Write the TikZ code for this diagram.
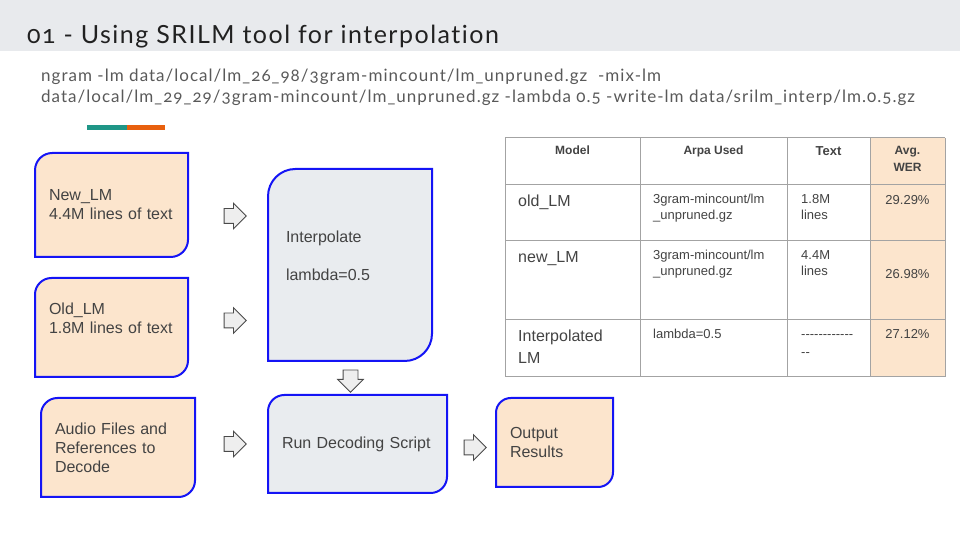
\documentclass[tikz,border=0pt]{standalone}
\usepackage{fontspec}
\setmainfont{Liberation Sans}
\newfontfamily\slidefont{Lato}[Numbers=OldStyle, Ligatures=NoCommon, LetterSpace=6]
\usetikzlibrary{shapes.arrows}
\usetikzlibrary{backgrounds}
\definecolor{peach}{HTML}{FCE5CD}
\definecolor{boxgray}{HTML}{E9ECEF}
\definecolor{bandgray}{HTML}{E8EAED}
\definecolor{boxblue}{HTML}{1414F5}
\definecolor{inktext}{HTML}{434343}
\definecolor{cmdtext}{HTML}{595959}
\definecolor{titletext}{HTML}{212121}
\definecolor{gridgray}{HTML}{A3A3A3}
\definecolor{arrowfill}{HTML}{EEEEEE}
\definecolor{arrowline}{HTML}{4A4A4A}
\definecolor{barteal}{HTML}{1F9687}
\definecolor{barorange}{HTML}{E8600E}
\newcommand{\stack}[2][l]{\begin{tabular}[t]{@{}#1@{}}#2\end{tabular}}
\newcommand{\diagcorner}[3]{\draw[boxline, fill=#2] (#1.south west) -- ([yshift=-#3]#1.north west) arc[start angle=180, end angle=90, radius=#3] -- (#1.north east) -- ([yshift=#3]#1.south east) arc[start angle=0, end angle=-90, radius=#3] -- cycle;}
\tikzset{boxline/.style = {draw=boxblue, line width=2}}
\tikzset{boxtext/.style = {inner xsep=14, inner ysep=0, outer sep=0, align=left, text=inktext, font=\fontsize{16}{19}\selectfont}}
\tikzset{blockarrow/.style = {single arrow, draw=arrowline, fill=arrowfill, line width=0.8, minimum height=22, single arrow head extend=5.5, inner sep=7, outer sep=0}}
\tikzset{cmdline/.style = {anchor=base west, inner sep=0, text=cmdtext, font=\fontsize{17}{21}\slidefont}}
\tikzset{headcell/.style = {anchor=base, inner sep=0, text=inktext, font=\fontsize{12}{17}\selectfont\bfseries}}
\tikzset{namecell/.style = {anchor=base west, inner sep=0, text=inktext, font=\fontsize{16}{22}\selectfont}}
\tikzset{cell/.style = {anchor=base west, inner sep=0, text=inktext, font=\fontsize{13}{16}\selectfont}}
\tikzset{wercell/.style = {anchor=base, inner sep=0, text=inktext, font=\fontsize{13}{16}\selectfont}}

\begin{document}
\begin{tikzpicture}[x=1pt, y=1pt]
    \useasboundingbox (0,0) rectangle (960,540);
    \fill[bandgray] (0,489) rectangle (960,540);
    \node [anchor=base west, inner sep=0, text=titletext, font=\fontsize{25}{30}\slidefont] (title) at (27,496) {01 - Using SRILM tool for interpolation};
    \node [cmdline] (cmd1) at (41,458) {ngram -lm data/local/lm\_26\_98/3gram-mincount/lm\_unpruned.gz\ \ -mix-lm};
    \node [cmdline] (cmd2) at (41,437) {data/local/lm\_29\_29/3gram-mincount/lm\_unpruned.gz -lambda 0.5 -write-lm data/srilm\_interp/lm.0.5.gz};
    \fill[barteal] (87,410) rectangle (127,415);
    \fill[barorange] (127,410) rectangle (165,415);

    \node [boxtext, minimum width=153, minimum height=104, text width=125] (newlm) at (111.5,335) {New\_LM\\4.4M lines of text};
    \node [boxtext, minimum width=153, minimum height=99, text width=125] (oldlm) at (111.5,212.5) {Old\_LM\\1.8M lines of text\\\mbox{}};
    \node [boxtext, minimum width=154, minimum height=99, text width=126] (audio) at (118,92.5) {Audio Files and\\References to\\Decode};
    \node [boxtext, inner xsep=18, minimum width=164, minimum height=192, text width=128] (interp) at (350,275) {Interpolate\\\mbox{}\\lambda=0.5\\\mbox{}};
    \node [boxtext, minimum width=179, minimum height=98, text width=151] (decode) at (357.5,96) {Run Decoding Script};
    \node [boxtext, minimum width=117, minimum height=89, text width=89] (output) at (554.5,97.5) {Output\\Results};
    \begin{scope}[on background layer]
      \foreach \n/\c/\r in {newlm/peach/17.3, oldlm/peach/16.5, audio/peach/16.5, interp/boxgray/27.3, decode/boxgray/16.3, output/peach/14.8}
        {\diagcorner{\n}{\c}{\r}}
    \end{scope}

    \node [blockarrow] (arr1) at (231.5,324) {};
    \node [blockarrow] (arr2) at (231.5,219.5) {};
    \node [blockarrow] (arr3) at (231.5,96) {};
    \node [blockarrow, rotate=-90] (arr4) at (350.5,162.5) {};
    \node [blockarrow] (arr5) at (471.5,92.5) {};

    \fill[peach] (870,163) rectangle (945,402);
    \foreach \x in {505,640,787,870,945}
      \draw[gridgray, line width=1] (\x,163) -- (\x,402);
    \foreach \y in {163,220,299,355,402}
      \draw[gridgray, line width=1] (505,\y) -- (945,\y);

    \node [headcell] (hmodel) at (572.5,385) {Model};
    \node [headcell] (harpa) at (713.5,385) {Arpa Used};
    \node [headcell, font=\fontsize{13}{17}\selectfont\bfseries] (htext) at (828.5,384) {Text};
    \node [headcell] (hwer) at (907.5,385) {\stack[c]{Avg.\\WER}};

    \node [namecell] (oldname) at (518,333) {old\_LM};
    \node [cell] (oldarpa) at (653,336) {\stack{3gram-mincount/lm\\\_unpruned.gz}};
    \node [cell] (oldtext) at (801,336) {\stack{1.8M\\lines}};
    \node [wercell] (oldwer) at (907.5,335) {29.29\%};

    \node [namecell] (newname) at (518,277) {new\_LM};
    \node [cell] (newarpa) at (653,280) {\stack{3gram-mincount/lm\\\_unpruned.gz}};
    \node [cell] (newtext) at (801,280) {\stack{4.4M\\lines}};
    \node [wercell] (newwer) at (907.5,261) {26.98\%};

    \node [namecell] (intname) at (518,198) {\stack{Interpolated\\LM}};
    \node [cell] (intarpa) at (653,201) {lambda=0.5};
    \node [cell, font=\fontsize{13}{18}\selectfont] (inttext) at (801,201) {\stack{-{}-{}-{}-{}-{}-{}-{}-{}-{}-{}-{}-\\-{}-}};
    \node [wercell] (intwer) at (907.5,201) {27.12\%};
  \end{tikzpicture}
\end{document}
